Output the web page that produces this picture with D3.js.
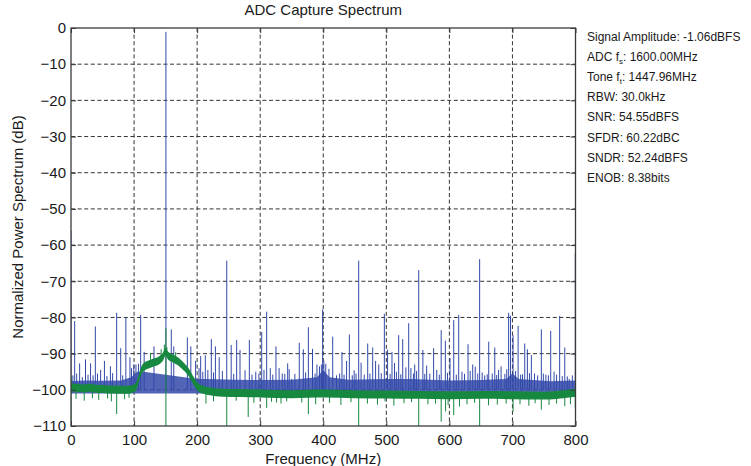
<!DOCTYPE html>
<html>
<head>
  <meta charset="utf-8"><script src="https://d3js.org/d3.v7.min.js"></script>
  <style>
    body { margin: 0; background: white; }
    text { font-family: "Liberation Sans", Arial, sans-serif; fill: #1a1a1a; }
  </style>
</head>
<body>
  <svg id="mychart" width="751" height="466" style="background: white"></svg>
<script>
  // ticks
  xTicks = [0, 100, 200, 300, 400, 500, 600, 700, 800]
  yTicks = [0, -10, -20, -30, -40, -50, -60, -70, -80, -90, -100, -110]

  // blue trace: spurs (frequency MHz, level dB)
  spurFreq  = [0, 5.8, 13.7, 23, 31, 38.6, 47, 53, 62.5, 72.4, 78.8, 87, 93.5, 99.5, 110.5, 116, 131.6, 150.5, 159, 163, 184.5, 190, 197.6, 205.6, 213, 222.5, 229, 235, 247, 254, 262.7, 268, 282.8, 293, 302.4, 310.3, 316, 325, 330, 335, 343.6, 350, 362, 368.4, 376.4, 383, 390, 399, 401, 404, 415, 421, 426, 429.7, 437, 441.4, 446, 452, 456.2, 460, 470.5, 478.4, 483, 488, 496.9, 502, 509, 513, 519.6, 526, 531, 535.5, 543, 545, 551.4, 558, 564, 575, 580, 587, 593.6, 601, 606.9, 614.8, 620, 629.6, 637, 641, 648, 656, 662.4, 668, 672, 678, 682, 694, 697, 701, 709, 713, 719.5, 723.7, 730, 735, 745.8, 753, 760.7, 766, 774.9, 783, 790, 799.7]
  spurLevel = [-56, -81, -92.7, -91.6, -92.7, -82.5, -94.5, -92, -93.5, -78.7, -88.5, -80, -91, -93, -79.3, -89.5, -88, -1.06, -83.3, -88, -85.5, -88, -92, -90.7, -90.5, -86, -88, -91, -64.3, -87.6, -86.2, -89, -86.2, -95, -84, -78.4, -94, -88, -94, -95.5, -92.7, -97, -87, -88.8, -82.7, -88.7, -93, -77.8, -92, -92.8, -85.3, -96, -95.5, -89.6, -92, -84.7, -96, -95.5, -64.3, -92.5, -87.2, -88.3, -92, -93, -79, -88.9, -89.5, -92.6, -84.9, -86, -93.8, -81.6, -95.5, -93, -66.9, -89, -93.3, -88.5, -94.5, -83.5, -86.4, -91.2, -80.7, -79.3, -95, -87.4, -93, -93.6, -63.9, -96, -86.7, -95.5, -88.3, -94.5, -93.5, -78.7, -79.5, -84.9, -82.3, -95.8, -87.2, -88.8, -90.4, -95.5, -83.3, -95.8, -83.7, -95, -79.6, -88.3, -97, -62.3]

  // blue trace: small grass lines
  grassFreq  = [3, 9, 18, 27, 35, 42, 57, 66, 82, 96, 103, 107, 203, 209, 217, 226, 240, 258, 276, 287, 298, 306, 320, 339, 346, 355, 372, 387, 394, 397, 409, 433, 449, 465, 474, 492, 506, 516, 523, 539, 548, 561, 569, 584, 597, 611, 624, 633, 645, 652, 660, 675, 688, 691, 705, 716, 727, 740, 749, 757, 770, 779, 787, 795]
  grassLevel = [-96, -95.5, -96.5, -95.8, -96, -95.5, -96.2, -95.4, -96, -94, -93, -92.8, -94, -95, -94.5, -95.2, -94.8, -95.6, -94.6, -95.8, -95.5, -94.5, -95.8, -95.6, -94.3, -95.6, -95.2, -95.5, -93.5, -93, -94.2, -95.8, -94.6, -95.8, -95.5, -95.4, -95.6, -95, -95.7, -94, -94.8, -95.6, -95.5, -95.8, -95.3, -95.8, -95.6, -94.8, -95.5, -95.2, -95.7, -95.9, -95.6, -94.3, -94.8, -95.7, -95.4, -96, -95.5, -96, -95.8, -96.2, -96.3, -96]

  // blue trace: dense floor top
  blueTopFreq  = [0, 20, 50, 80, 95, 105, 115, 200, 215, 260, 300, 350, 390, 400, 410, 440, 500, 540, 600, 650, 690, 700, 710, 760, 800]
  blueTopLevel = [-97.6, -97.4, -97.5, -97.4, -96.5, -95, -95, -97, -97, -97.2, -97.3, -97.2, -96.5, -94.5, -96.5, -97.2, -97, -97, -97.4, -97.3, -97, -95.5, -97, -97.6, -97.4]

  // green trace: smoothed floor
  greenFreq  = [0, 10, 20, 30, 40, 50, 60, 70, 80, 90, 100, 104, 108, 112, 116, 120, 130, 140, 146, 150, 154, 160, 170, 180, 186, 192, 196, 200, 210, 220, 240, 270, 300, 350, 400, 450, 500, 550, 600, 650, 700, 750, 780, 800]
  greenLevel = [-99.3, -99.5, -99.6, -99.4, -99.7, -99.8, -99.9, -99.9, -100, -100, -99.6, -98.8, -96.5, -94.5, -93.6, -93.2, -92.5, -91.8, -90.8, -89.5, -90.6, -91.2, -92.2, -93.8, -95, -96.8, -98, -99, -100, -100.4, -100.8, -100.9, -101, -101.2, -101, -101.2, -101.3, -101.4, -101.5, -101.4, -101.5, -101.6, -101.2, -100.8]

  // green trace: short excursions off the floor
  fuzzFreq  = [8, 21, 34, 44, 58, 64, 85, 92, 126, 143, 148, 152, 166, 214, 226, 262, 290, 318, 333, 342, 366, 388, 410, 428, 444, 470, 486, 498, 512, 528, 540, 566, 578, 598, 616, 628, 640, 662, 676, 690, 712, 726, 736, 758, 770, 792]
  fuzzLevel = [-102.5, -103, -102.3, -102.8, -102.4, -103.2, -102.6, -102.2, -89.8, -88.8, -87.5, -88.2, -89.6, -103.8, -103.2, -103, -103.6, -103.3, -103.8, -103.2, -103.5, -104, -103.6, -104.2, -103.4, -103.8, -104.1, -103.2, -104.4, -103.7, -103.4, -104, -103.8, -104.2, -104.6, -104, -103.6, -104.3, -104.1, -103.8, -104, -104.4, -103.7, -104.2, -103.8, -104]

  // green trace: deep drops (frequency, top, bottom)
  dropFreq   = [0, 72.4, 150.5, 247, 281, 310.3, 326, 376.4, 456.2, 551.4, 587, 594, 606.9, 648, 701, 745.8, 783, 799.7]
  dropTop    = [-96, -100, -83, -100.8, -101, -101, -101, -101, -101, -101.4, -101.4, -101.4, -101.5, -101.4, -101.5, -101.6, -101.3, -100.8]
  dropBottom = [-112, -106.7, -112, -112, -107.5, -105, -103.5, -106.7, -112, -112, -108.8, -106, -107, -112, -106, -105.5, -104.5, -105]

  // parameter box
  infoLines = [
    ["Signal Amplitude: -1.06dBFS"],
    ["ADC f", "s", ": 1600.00MHz"],
    ["Tone f", "t", ": 1447.96MHz"],
    ["RBW: 30.0kHz"],
    ["SNR: 54.55dBFS"],
    ["SFDR: 60.22dBC"],
    ["SNDR: 52.24dBFS"],
    ["ENOB: 8.38bits"]
  ]

  width = 751
  height = 466
  margin = ({top: 28, right: 175.5, bottom: 40, left: 71})

  x = d3.scaleLinear()
    .domain([0, 800])
    .range([margin.left, width - margin.right])

  y = d3.scaleLinear()
    .domain([-110, 0])
    .range([height - margin.bottom, margin.top])

  svg = d3.select("#mychart")
  blue = "#3249a9"
  green = "#16883f"

  svg.append("clipPath").attr("id", "plot")
    .append("rect")
    .attr("x", x(0)).attr("y", y(0))
    .attr("width", x(800) - x(0)).attr("height", y(-110) - y(0))

  // dashed grid
  grid = svg.append("g")
    .attr("stroke", "#333")
    .attr("stroke-width", 1)
    .attr("stroke-dasharray", "4,2.6")
  grid.selectAll(".gx").data(xTicks.slice(1, -1)).join("line")
    .attr("x1", d => x(d)).attr("x2", d => x(d))
    .attr("y1", y(0)).attr("y2", y(-110))
  grid.selectAll(".gy").data(yTicks.slice(1, -1)).join("line")
    .attr("x1", x(0)).attr("x2", x(800))
    .attr("y1", d => y(d)).attr("y2", d => y(d))

  plot = svg.append("g").attr("clip-path", "url(#plot)")

  // blue dense floor
  plot.append("path")
    .datum(blueTopFreq.map((f, i) => [f, blueTopLevel[i]]))
    .attr("fill", blue)
    .attr("fill-opacity", 0.85)
    .attr("d", d3.area()
      .x(d => x(d[0]))
      .y0(y(-101))
      .y1(d => y(d[1])))

  // blue grass and spurs
  vlines = (fs, tops, base) => fs.map((f, i) => `M${x(f)},${y(base)}V${y(tops[i])}`).join("")

  plot.append("path")
    .attr("fill", "none")
    .attr("stroke", blue)
    .attr("stroke-width", 1)
    .attr("d", vlines(grassFreq, grassLevel, -100))

  plot.append("path")
    .attr("fill", "none")
    .attr("stroke", blue)
    .attr("stroke-width", 1)
    .attr("d", vlines(spurFreq, spurLevel, -100))

  // green floor
  greenData = greenFreq.map((f, i) => [f, greenLevel[i]])
  plot.append("path")
    .datum(greenData)
    .attr("fill", green)
    .attr("d", d3.area()
      .curve(d3.curveMonotoneX)
      .x(d => x(d[0]))
      .y0(d => y(d[1] - 1.1))
      .y1(d => y(d[1] + 1.1)))

  floorAt = f => d3.scaleLinear().domain(greenFreq).range(greenLevel)(f)

  plot.append("path")
    .attr("fill", "none")
    .attr("stroke", green)
    .attr("stroke-width", 1)
    .attr("d", fuzzFreq.map((f, i) => `M${x(f)},${y(floorAt(f))}V${y(fuzzLevel[i])}`).join(""))

  plot.append("path")
    .attr("fill", "none")
    .attr("stroke", green)
    .attr("stroke-width", 1)
    .attr("d", dropFreq.map((f, i) => `M${x(f)},${y(dropTop[i])}V${y(dropBottom[i])}`).join(""))

  // frame with inward ticks
  frame = svg.append("g").attr("color", "#3a3a3a")
  tickStyle = g => g.call(g => g.select(".domain").remove())
    .call(g => g.selectAll("text").attr("font-size", 15).attr("fill", "#1a1a1a")
      .attr("font-family", "Liberation Sans, Arial, sans-serif"))

  frame.append("g")
    .attr("transform", `translate(0,${y(-110)})`)
    .call(d3.axisBottom(x).tickValues(xTicks).tickSize(-5).tickPadding(8))
    .call(tickStyle)
  frame.append("g")
    .attr("transform", `translate(0,${y(0)})`)
    .call(d3.axisTop(x).tickValues(xTicks).tickSize(-5).tickFormat(""))
    .call(tickStyle)
  frame.append("g")
    .attr("transform", `translate(${x(0)},0)`)
    .call(d3.axisLeft(y).tickValues(yTicks).tickSize(-5).tickPadding(5))
    .call(tickStyle)
  frame.append("g")
    .attr("transform", `translate(${x(800)},0)`)
    .call(d3.axisRight(y).tickValues(yTicks).tickSize(-5).tickFormat(""))
    .call(tickStyle)

  svg.append("rect")
    .attr("x", x(0)).attr("y", y(0))
    .attr("width", x(800) - x(0)).attr("height", y(-110) - y(0))
    .attr("fill", "none")
    .attr("stroke", "#3a3a3a")
    .attr("stroke-width", 1.3)

  // titles
  svg.append("text")
    .attr("x", (x(0) + x(800)) / 2).attr("y", 15)
    .attr("text-anchor", "middle")
    .attr("font-size", 15)
    .text("ADC Capture Spectrum")

  svg.append("text")
    .attr("x", (x(0) + x(800)) / 2).attr("y", 463.5)
    .attr("text-anchor", "middle")
    .attr("font-size", 15)
    .text("Frequency (MHz)")

  svg.append("text")
    .attr("transform", `translate(23,${(y(0) + y(-110)) / 2}) rotate(-90)`)
    .attr("text-anchor", "middle")
    .attr("font-size", 15)
    .text("Normalized Power Spectrum (dB)")

  // parameter text
  info = svg.append("g").attr("font-size", 12)
  infoLines.forEach((parts, i) => {
    t = info.append("text").attr("x", 587).attr("y", 41 + i * 20.1)
    t.append("tspan").text(parts[0])
    if (parts.length > 1) {
      t.append("tspan").attr("font-size", 8).attr("dy", 3).text(parts[1])
      t.append("tspan").attr("dy", -3).text(parts[2])
    }
  })
</script>
</body>
</html>
